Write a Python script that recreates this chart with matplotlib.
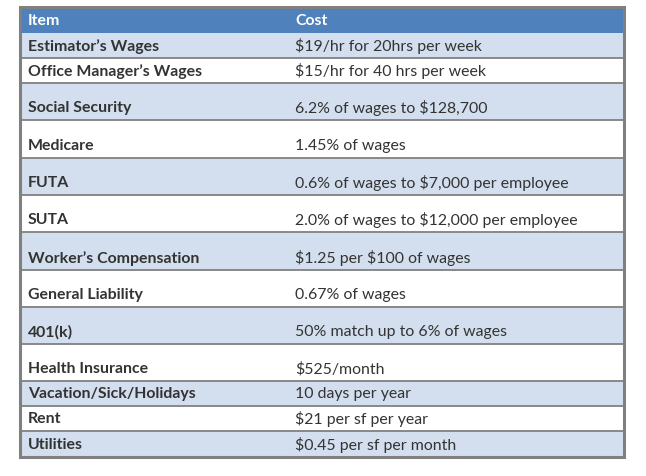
import matplotlib
matplotlib.use("Agg")
import matplotlib.pyplot as plt
from matplotlib.patches import Rectangle

plt.rcParams["text.parse_math"] = False

# ---- data ----
header = ["Item", "Cost"]
items = [
    "Estimator\u2019s Wages",
    "Office Manager\u2019s Wages",
    "Social Security",
    "Medicare",
    "FUTA",
    "SUTA",
    "Worker\u2019s Compensation",
    "General Liability",
    "401(k)",
    "Health Insurance",
    "Vacation/Sick/Holidays",
    "Rent",
    "Utilities",
]
costs = [
    "$19/hr for 20hrs per week",
    "$15/hr for 40 hrs per week",
    "6.2% of wages to $128,700",
    "1.45% of wages",
    "0.6% of wages to $7,000 per employee",
    "2.0% of wages to $12,000 per employee",
    "$1.25 per $100 of wages",
    "0.67% of wages",
    "50% match up to 6% of wages",
    "$525/month",
    "10 days per year",
    "$21 per sf per year",
    "$0.45 per sf per month",
]

# ---- layout (pixels) ----
W, H = 646, 476
left, right, top = 20, 624, 7
header_h = 26
row_h = [25, 25, 37, 38, 37, 37, 38, 37, 37, 37, 25, 25, 26]
col2_x = 295
pad_x = 8

header_color = "#4F81BD"
light = "#D3DFEE"
white = "#FFFFFF"
border = "#808080"
text_color = "#333333"

fig = plt.figure(figsize=(W / 100, H / 100), dpi=100)
ax = fig.add_axes([0, 0, 1, 1])
ax.set_xlim(0, W)
ax.set_ylim(H, 0)
ax.axis("off")

font = ["Lato", "DejaVu Sans"]
fs = 11.4

# header
ax.add_patch(Rectangle((left, top), right - left, header_h, facecolor=header_color, edgecolor="none"))
ax.text(left + pad_x, top + header_h / 2 + 1.3, header[0], color="white", fontsize=fs,
        fontweight="bold", family=font, va="center", ha="left")
ax.text(col2_x, top + header_h / 2 + 1.3, header[1], color="white", fontsize=fs,
        fontweight="bold", family=font, va="center", ha="left")

y = top + header_h
for i, (it, co, h) in enumerate(zip(items, costs, row_h)):
    fc = light if i % 2 == 0 else white
    ax.add_patch(Rectangle((left, y), right - left, h, facecolor=fc, edgecolor="none"))
    ty = y + h - 11.7 if h > 30 else y + h / 2 + 0.8
    ax.text(left + pad_x, ty, it, color=text_color, fontsize=fs, fontweight="bold",
            family=font, va="center", ha="left")
    ax.text(col2_x, ty, co, color=text_color, fontsize=fs, family=font, va="center", ha="left")
    if i > 0:
        ax.plot([left, right], [y, y], color=border, lw=1.3, solid_capstyle="butt")
    y += h

# outer border
ax.add_patch(Rectangle((left, top), right - left, y - top, facecolor="none", edgecolor=border, lw=2.2))

fig.savefig("out.png", dpi=100)
